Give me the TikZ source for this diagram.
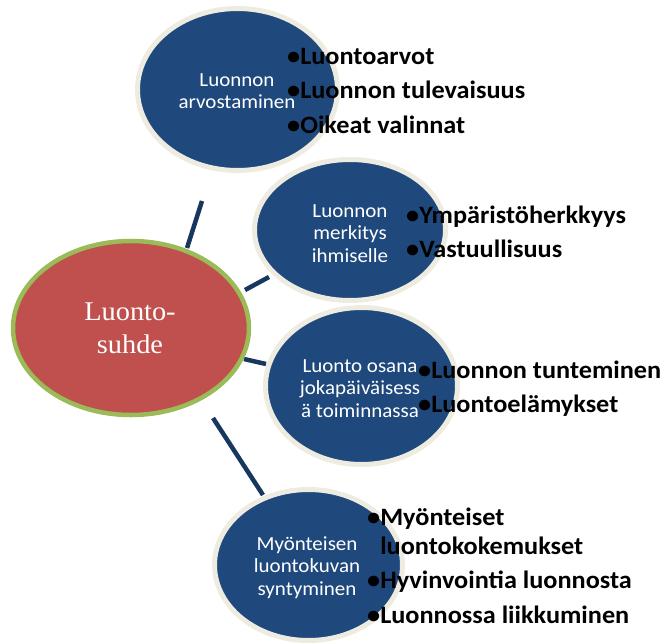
\documentclass[tikz,border=0pt]{standalone}
\usepackage{fontspec}
\setmainfont{Liberation Serif}
\newfontfamily\calfont[FakeStretch=1.05]{Carlito}
\newfontfamily\hubfont[FakeStretch=1.05]{Liberation Serif}
\usetikzlibrary{shapes.geometric}
\definecolor{bubble}{HTML}{1F497D}
\definecolor{cream}{HTML}{EEECE1}
\definecolor{hubred}{HTML}{C0504D}
\definecolor{hubgreen}{HTML}{9BBB59}
\definecolor{linkblue}{HTML}{17375E}
\tikzset{
  hubshape/.style={ellipse, fill=hubred, draw=hubgreen, line width=4.5pt, inner sep=0pt},
  bubbleshape/.style={ellipse, fill=bubble, draw=cream, line width=5pt, inner sep=0pt},
  bubbletext/.style={inner sep=0pt, anchor=base, text=white, font=\calfont\fontsize{20}{22.5}\selectfont},
  bullettext/.style={inner sep=0pt, anchor=base west, text=black, font=\calfont\bfseries\fontsize{25}{29}\selectfont},
  hubtext/.style={inner sep=0pt, anchor=base, text=white, font=\hubfont\fontsize{27}{33}\selectfont},
  link/.style={draw=linkblue, line width=4.5pt}
}
\renewcommand{\arraystretch}{1}
\begin{document}
\begin{tikzpicture}[x=1pt,y=-1pt]
\useasboundingbox (0,0) rectangle (664,643);
% connectors
\coordinate (k1a) at (187,248); \coordinate (k1b) at (202,201);
\coordinate (k2a) at (245,290); \coordinate (k2b) at (269,277);
\coordinate (k3a) at (244,359); \coordinate (k3b) at (266,364);
\coordinate (k4a) at (213,418); \coordinate (k4b) at (263,495);
\draw[link] (k1a) -- (k1b);
\draw[link] (k2a) -- (k2b);
\draw[link] (k3a) -- (k3b);
\draw[link] (k4a) -- (k4b);
% shapes
\node[hubshape, minimum width=236pt, minimum height=174pt] (hub) at (131,328) {};
\node[bubbleshape, minimum width=200pt, minimum height=162pt] (c1) at (237.5,89.5) {};
\node[bubbleshape, minimum width=191pt, minimum height=141pt] (c2) at (350,230) {};
\node[bubbleshape, minimum width=192pt, minimum height=157pt] (c3) at (361.5,386) {};
\node[bubbleshape, minimum width=188pt, minimum height=151pt] (c4) at (308.5,565) {};
% texts
\node[hubtext] (hubt) at (130,320) {\begin{tabular}[t]{@{}c@{}}Luonto-\\suhde\end{tabular}};
\node[bubbletext] (t1) at (237,86) {\begin{tabular}[t]{@{}c@{}}Luonnon\\arvostaminen\end{tabular}};
\node[bubbletext] (t2) at (350,217) {\begin{tabular}[t]{@{}c@{}}Luonnon\\merkitys\\ihmiselle\end{tabular}};
\node[bubbletext] (t3) at (360,372) {\begin{tabular}[t]{@{}c@{}}Luonto osana\\jokapäiväisess\\ä toiminnassa\end{tabular}};
\node[bubbletext] (t4) at (307,550) {\begin{tabular}[t]{@{}c@{}}Myönteisen\\luontokuvan\\syntyminen\end{tabular}};
\node[bullettext] (b1) at (287,64) {\begin{tabular}[t]{@{}l@{}l@{}}•&Luontoarvot\\[5.5pt]•&Luonnon tulevaisuus\\[5.5pt]•&Oikeat valinnat\end{tabular}};
\node[bullettext] (b2) at (406,223) {\begin{tabular}[t]{@{}l@{}l@{}}•&Ympäristöherkkyys\\[5.5pt]•&Vastuullisuus\end{tabular}};
\node[bullettext] (b3) at (418,378) {\begin{tabular}[t]{@{}l@{}l@{}}•&Luonnon tunteminen\\[5.5pt]•&Luontoelämykset\end{tabular}};
\node[bullettext] (b4) at (367,525) {\begin{tabular}[t]{@{}l@{}l@{}}•&Myönteiset\\&luontokokemukset\\[5.5pt]•&Hyvinvointia luonnosta\\[5.5pt]•&Luonnossa liikkuminen\end{tabular}};
\end{tikzpicture}
\end{document}
